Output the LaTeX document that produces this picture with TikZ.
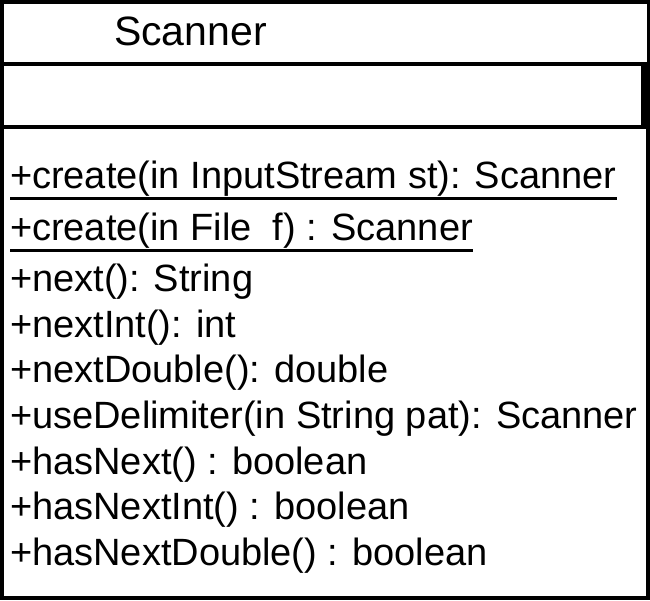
\documentclass[tikz,border=0pt]{standalone}
\usepackage{fontspec}
\setmainfont{Liberation Sans}
\begin{document}
\begin{tikzpicture}[x=1pt,y=-1pt,
  member/.style={anchor=base west,inner sep=0pt,outer sep=0pt,
    font=\fontsize{38}{38}\selectfont},
  title/.style={anchor=base west,inner sep=0pt,outer sep=0pt,
    font=\fontsize{41}{41}\selectfont},
  compartment/.style={fill=white,draw=none},
  staticline/.style={line width=3.5pt}]
\useasboundingbox (0,0) rectangle (650,600);
% class frame and compartment separators
\fill[black] (0,0) rectangle (650,600);
\fill[compartment] (4,4) rectangle (647,62);
\fill[compartment] (4,66) rectangle (641,125);
\fill[compartment] (4,129) rectangle (646,596);
% class name
\node[title] (name) at (114,45) {Scanner};
% operations
\node[member] (op1) at (10,188) {+create(in InputStream st): Scanner};
\node[member] (op2) at (10,240) {+create(in File\ \ f) : Scanner};
\node[member] (op3) at (10,291) {+next(): String};
\node[member] (op4) at (10,337) {+nextInt(): int};
\node[member] (op5) at (10,382) {+nextDouble(): double};
\node[member] (op6) at (10,428) {+useDelimiter(in String pat): Scanner};
\node[member] (op7) at (10,474) {+hasNext() : boolean};
\node[member] (op8) at (10,519) {+hasNextInt() : boolean};
\node[member] (op9) at (10,565) {+hasNextDouble() : boolean};
% static operations are underlined
\draw[staticline] ([yshift=-10.5pt]op1.base west) -- ([yshift=-10.5pt]op1.base east);
\draw[staticline] ([yshift=-10.5pt]op2.base west) -- ([yshift=-10.5pt]op2.base east);
\end{tikzpicture}
\end{document}
